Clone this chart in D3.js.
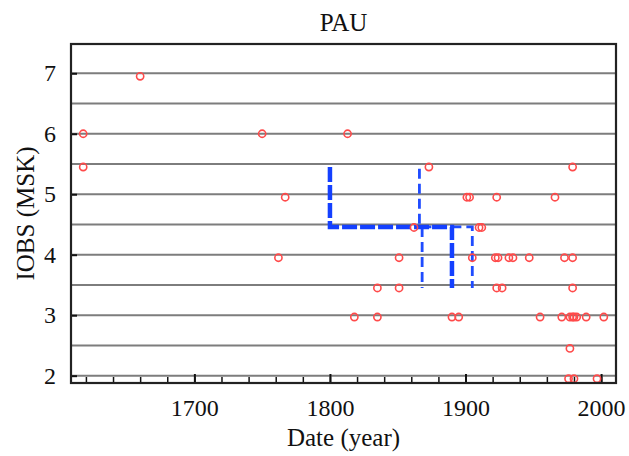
<!DOCTYPE html>
<html>
<head>
<meta charset="utf-8">
<script src="https://cdn.jsdelivr.net/npm/d3@7"></script>
<style>
  html, body { margin: 0; padding: 0; background: #fff; }
  svg { display: block; }
  text { font-family: "Liberation Serif", "Times New Roman", serif; fill: #111; }
</style>
</head>
<body>
<svg id="chart" width="629" height="456"></svg>
<script>
// Observed intensities (MSK) by year of event
const years = [
  1618, 1618, 1660, 1750, 1813, 1873, 1901, 1903, 1923, 1966, 1979, 1767,
  1862, 1910, 1912,
  1762, 1851, 1905, 1922, 1924, 1932, 1935, 1947, 1973, 1979,
  1835, 1851, 1923, 1927, 1979,
  1818, 1835, 1890, 1895, 1955, 1971, 1977, 1979, 1980, 1982, 1989, 2002,
  1977,
  1976, 1980, 1997
];
const intensities = [
  6.0, 5.45, 6.95, 6.0, 6.0, 5.45, 4.95, 4.95, 4.95, 4.95, 5.45, 4.95,
  4.45, 4.45, 4.45,
  3.95, 3.95, 3.95, 3.95, 3.95, 3.95, 3.95, 3.95, 3.95, 3.95,
  3.45, 3.45, 3.45, 3.45, 3.45,
  2.97, 2.97, 2.97, 2.97, 2.97, 2.97, 2.97, 2.97, 2.97, 2.97, 2.97, 2.97,
  2.45,
  1.95, 1.95, 1.95
];

// Completeness periods: best estimate (thick) and bounds (thin)
const stepYears = [1800, 1800, 1890, 1890];
const stepLevels = [5.45, 4.46, 4.46, 3.45];
const boundYears = [1866, 1866, 1905, 1905];
const boundLevels = [5.42, 4.46, 4.46, 3.45];
const bound2Years = [1868, 1868];
const bound2Levels = [4.46, 3.45];

const xMajorTicks = [1700, 1800, 1900, 2000];
const xMinorTicks = d3.range(1620, 2001, 20);
const yTicks = [2, 3, 4, 5, 6, 7];
const yGrid = d3.range(2, 7.01, 0.5);

const title = "PAU";
const xLabel = "Date (year)";
const yLabel = "IOBS (MSK)";

const svg = d3.select("#chart");
const L = 71, R = 616, T = 44, B = 383;

const x = d3.scaleLinear().domain([1609, 2011]).range([L, R]);
const y = d3.scaleLinear().domain([1.879, 7.484]).range([B, T]);

// horizontal grid
svg.append("g").selectAll("line").data(yGrid).join("line")
  .attr("x1", L).attr("x2", R)
  .attr("y1", d => y(d)).attr("y2", d => y(d))
  .attr("stroke", "#7d7d7d").attr("stroke-width", 2);

// bottom axis: inward ticks, longer at centuries
const xAxisMinor = d3.axisBottom(x).tickValues(xMinorTicks).tickSize(-6).tickFormat("");
svg.append("g").attr("transform", `translate(0,${B})`).call(xAxisMinor)
  .call(g => g.select(".domain").remove())
  .call(g => g.selectAll("line").attr("stroke", "#111").attr("stroke-width", 1.5));
const xAxisMajor = d3.axisBottom(x).tickValues(xMajorTicks).tickSize(-9).tickPadding(16).tickFormat(d3.format("d"));
svg.append("g").attr("transform", `translate(0,${B})`).call(xAxisMajor)
  .call(g => g.select(".domain").remove())
  .call(g => g.selectAll("line").attr("stroke", "#111").attr("stroke-width", 2))
  .call(g => g.selectAll("text").attr("font-size", 24).attr("font-family", "Liberation Serif").attr("fill", "#111"));

// left axis: inward ticks at integers
const yAxis = d3.axisLeft(y).tickValues(yTicks).tickSize(-6).tickPadding(15).tickFormat(d3.format("d"));
svg.append("g").attr("transform", `translate(${L},0)`).call(yAxis)
  .call(g => g.select(".domain").remove())
  .call(g => g.selectAll("line").attr("stroke", "#111").attr("stroke-width", 2))
  .call(g => g.selectAll("text").attr("font-size", 24).attr("font-family", "Liberation Serif").attr("fill", "#111"));

// completeness steps
const line = d3.line().x(d => x(d[0])).y(d => y(d[1]));
svg.append("path").datum(boundYears.map((v, i) => [v, boundLevels[i]]))
  .attr("d", line).attr("fill", "none")
  .attr("stroke", "#1f4cff").attr("stroke-width", 2.8).attr("stroke-dasharray", "10,5");
svg.append("path").datum(bound2Years.map((v, i) => [v, bound2Levels[i]]))
  .attr("d", line).attr("fill", "none")
  .attr("stroke", "#1f4cff").attr("stroke-width", 2.8).attr("stroke-dasharray", "10,5");
svg.append("path").datum(stepYears.map((v, i) => [v, stepLevels[i]]))
  .attr("d", line).attr("fill", "none")
  .attr("stroke", "#1440ff").attr("stroke-width", 4.5).attr("stroke-dasharray", "15,3");

// observations
svg.append("g").selectAll("circle").data(years.map((v, i) => [v, intensities[i]])).join("circle")
  .attr("cx", d => x(d[0])).attr("cy", d => y(d[1])).attr("r", 3.6)
  .attr("fill", "none").attr("stroke", "#ff4a4a").attr("stroke-width", 1.6);

// frame
svg.append("rect").attr("x", L).attr("y", T).attr("width", R - L).attr("height", B - T)
  .attr("fill", "none").attr("stroke", "#222").attr("stroke-width", 2.2);

// titles
svg.append("text").attr("x", (L + R) / 2).attr("y", 31).attr("text-anchor", "middle")
  .attr("font-size", 25).text(title);
svg.append("text").attr("x", (L + R) / 2).attr("y", 446).attr("text-anchor", "middle")
  .attr("font-size", 25).text(xLabel);
svg.append("text").attr("transform", `translate(34,${(T + B) / 2}) rotate(-90)`)
  .attr("text-anchor", "middle").attr("font-size", 25).text(yLabel);
</script>
</body>
</html>
